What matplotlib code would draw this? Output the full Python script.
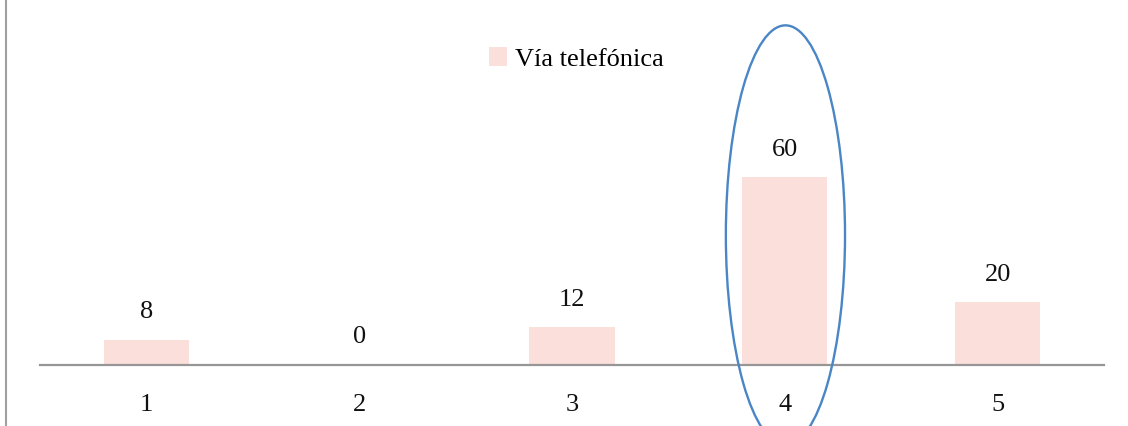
import matplotlib
matplotlib.use('Agg')
import matplotlib.pyplot as plt
from matplotlib.patches import Ellipse
from matplotlib.lines import Line2D

categories = ['1', '2', '3', '4', '5']
values = [8, 0, 12, 60, 20]
series_name = 'Vía telefónica'

plt.rcParams['font.family'] = ['Liberation Serif', 'DejaVu Serif']

W, H = 1128, 426
fig = plt.figure(figsize=(W / 100, H / 100), dpi=100)
ax = fig.add_axes([40 / W, (H - 365) / H, 1064 / W, 365 / H])

x = list(range(len(categories)))
bars = ax.bar(x, values, width=0.40, color='#fadfdb', label=series_name, zorder=2)
ax.bar_label(bars, padding=12, fontsize=19, color='#111111')

ax.set_xlim(-0.5, len(categories) - 0.5)
ax.set_ylim(0, 116.6)
ax.set_xticks(x)
ax.set_xticklabels(categories, fontsize=19, color='#111111')
ax.tick_params(axis='x', length=0, pad=21)
ax.set_yticks([])
for s in ['top', 'right', 'left']:
    ax.spines[s].set_visible(False)
ax.spines['bottom'].set_color('#969696')
ax.spines['bottom'].set_linewidth(1.6)
ax.spines['bottom'].set_zorder(3)

# highlight around category 4
ell = Ellipse((3.003, 41.5), width=0.56, height=134, fill=False,
              edgecolor='#4a86c6', linewidth=1.7, clip_on=False, zorder=4)
ax.add_patch(ell)

leg = ax.legend(loc='center left', bbox_to_anchor=(489 / W, 1 - 59 / H),
                bbox_transform=fig.transFigure, frameon=False, fontsize=19,
                handlelength=0.7, handleheight=0.7, handletextpad=0.3,
                borderpad=0, borderaxespad=0)

# left frame border
fig.add_artist(Line2D([5.5 / W, 5.5 / W], [0, 1], color='#a0a0a0', linewidth=1.5))

fig.savefig('out.png', dpi=100)
plt.close(fig)
